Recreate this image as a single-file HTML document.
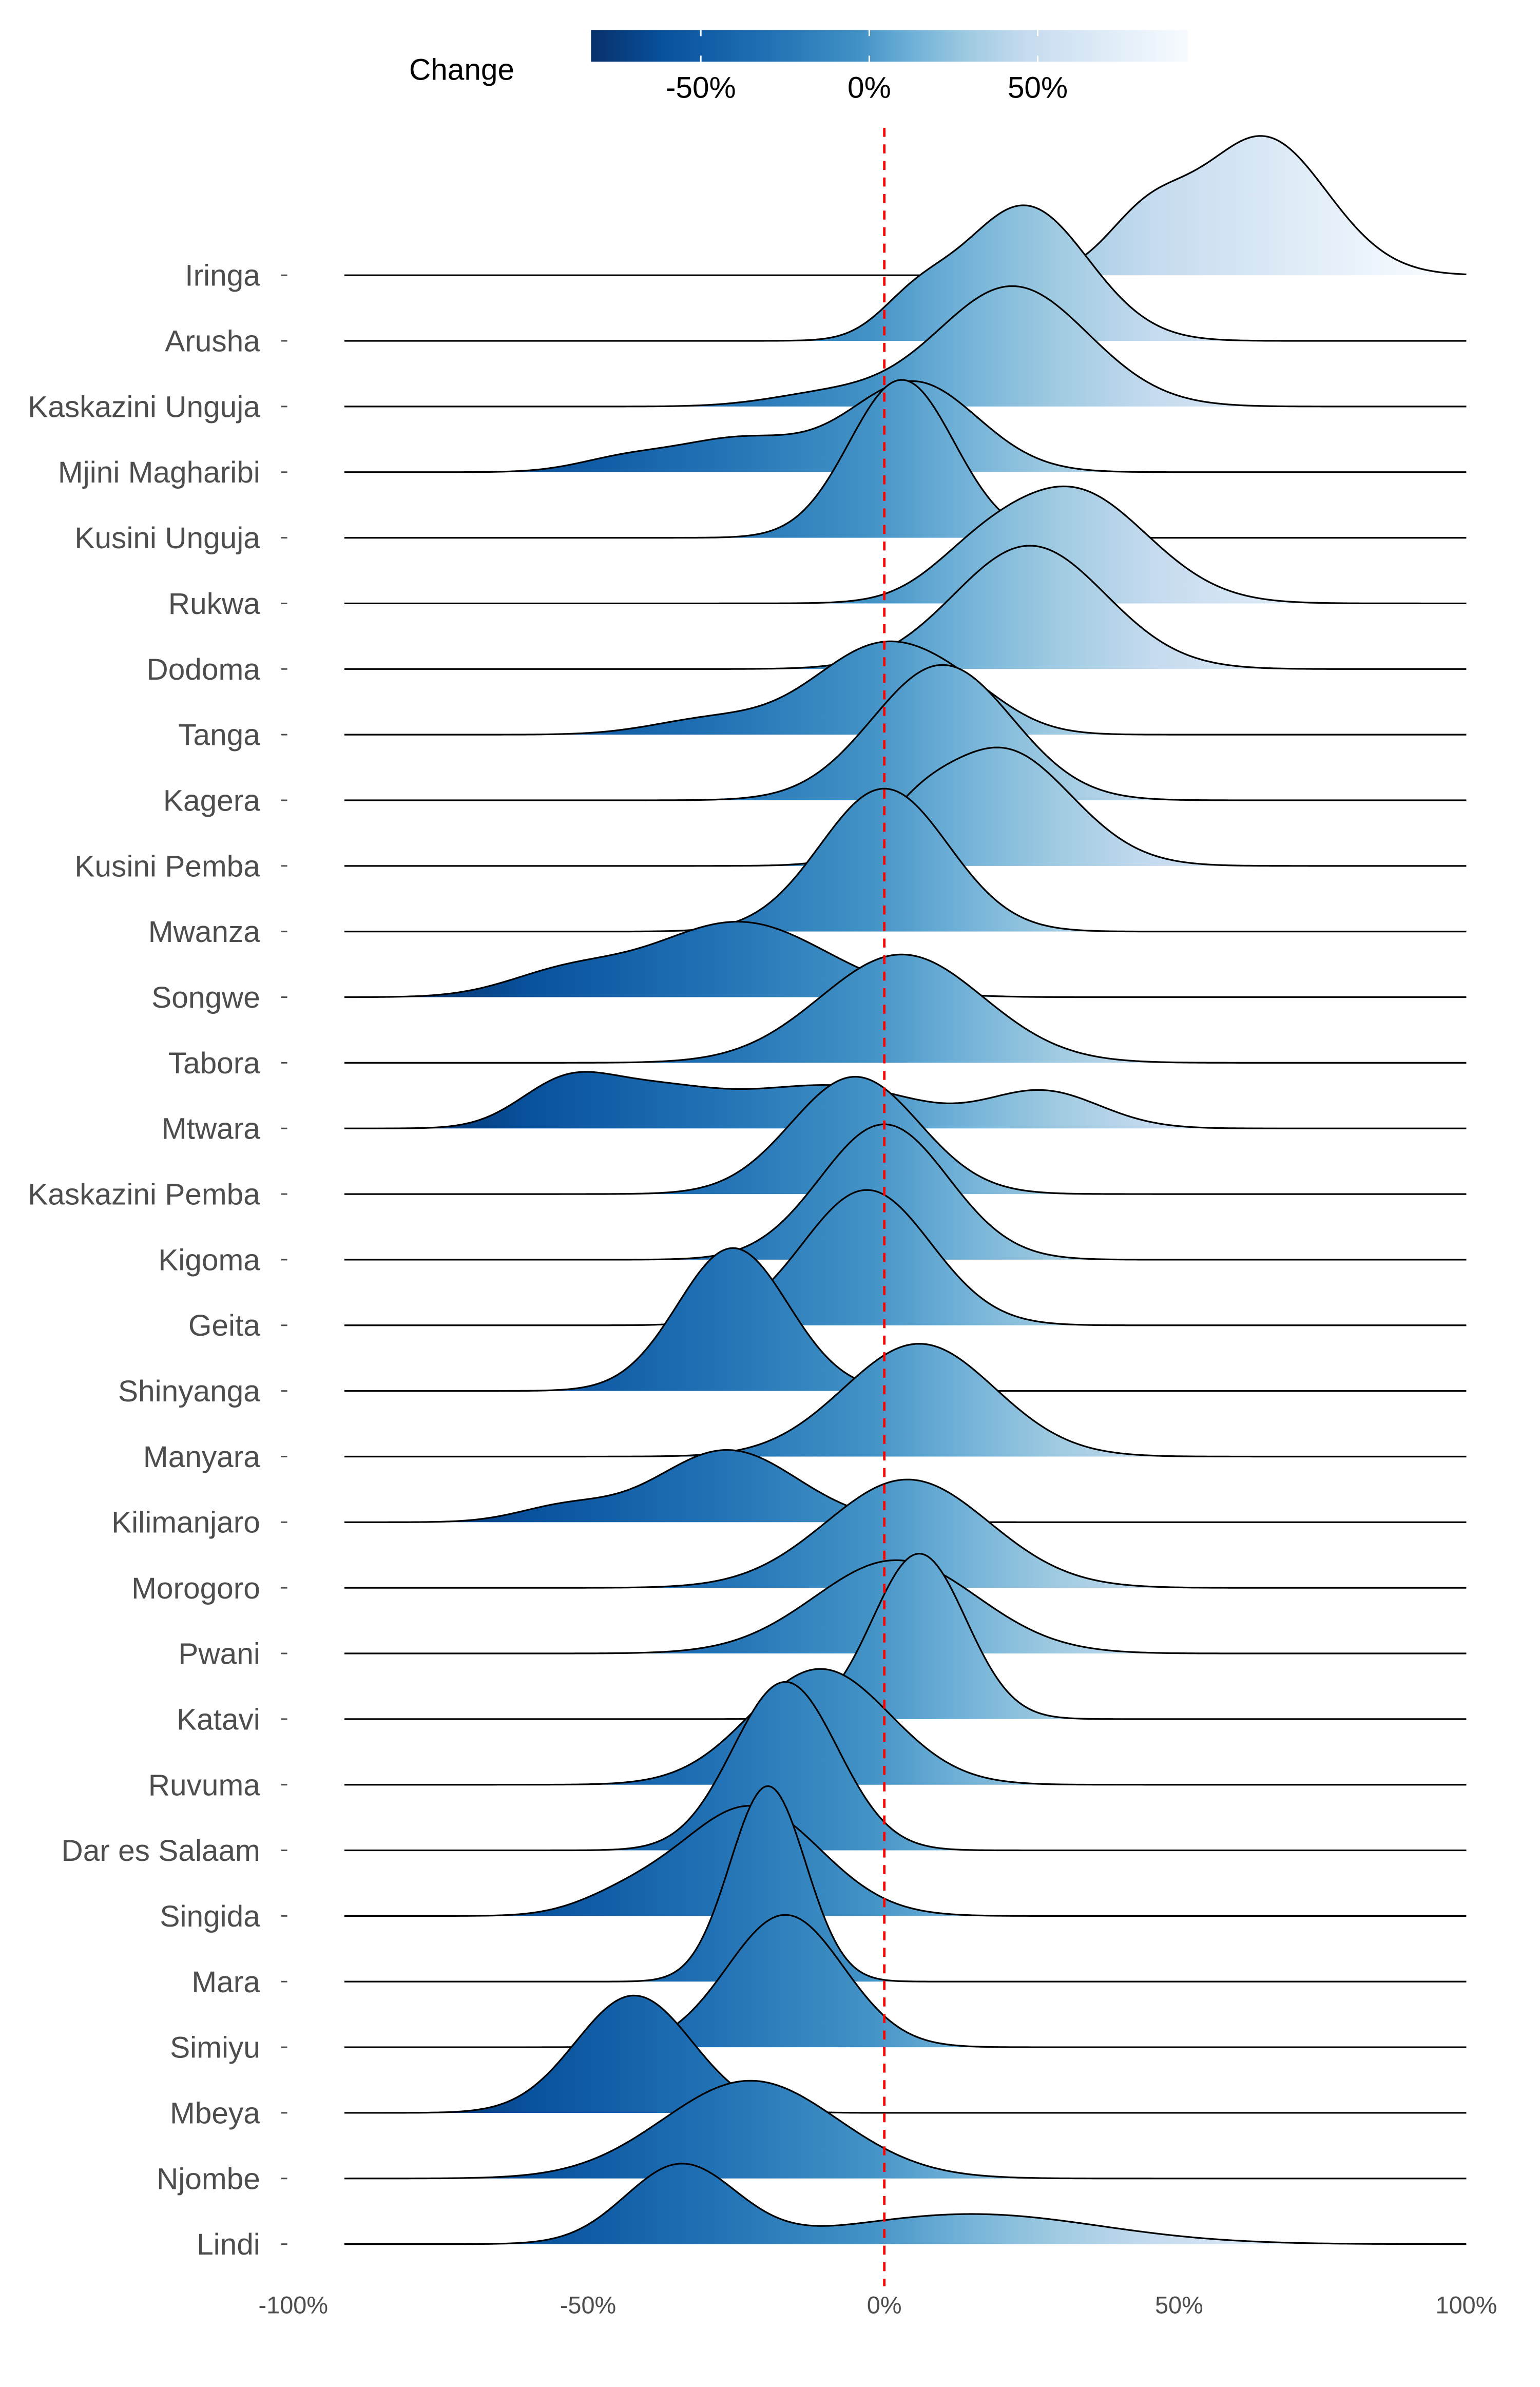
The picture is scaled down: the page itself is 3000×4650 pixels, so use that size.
<!DOCTYPE html>
<html><head><meta charset="utf-8"><style>
html,body{margin:0;padding:0;background:#fff;}
svg{display:block;}
text{font-family:"Liberation Sans",sans-serif;}
</style></head><body>
<svg id="s" width="3000" height="4650" viewBox="0 0 1024 1587" preserveAspectRatio="none" xmlns="http://www.w3.org/2000/svg">
<defs>
<linearGradient id="g" gradientUnits="userSpaceOnUse" x1="268" y1="0" x2="954" y2="0">
<stop offset="0" stop-color="#08306b"/>
<stop offset="0.12" stop-color="#08519c"/>
<stop offset="0.3" stop-color="#2171b5"/>
<stop offset="0.45" stop-color="#4292c6"/>
<stop offset="0.53" stop-color="#6baed6"/>
<stop offset="0.63" stop-color="#9ecae1"/>
<stop offset="0.73" stop-color="#c6dbef"/>
<stop offset="0.86" stop-color="#deebf7"/>
<stop offset="1" stop-color="#f7fbff"/>
</linearGradient>
<linearGradient id="cb" x1="0" y1="0" x2="1" y2="0">
<stop offset="0" stop-color="#08306b"/>
<stop offset="0.12" stop-color="#08519c"/>
<stop offset="0.3" stop-color="#2171b5"/>
<stop offset="0.45" stop-color="#4292c6"/>
<stop offset="0.53" stop-color="#6baed6"/>
<stop offset="0.63" stop-color="#9ecae1"/>
<stop offset="0.73" stop-color="#c6dbef"/>
<stop offset="0.86" stop-color="#deebf7"/>
<stop offset="1" stop-color="#f7fbff"/>
</linearGradient>
</defs>
<rect x="393" y="20" width="397" height="21" fill="url(#cb)"/>
<line x1="466" y1="20" x2="466" y2="24" stroke="#fff"/><line x1="466" y1="37" x2="466" y2="41" stroke="#fff"/>
<line x1="578" y1="20" x2="578" y2="24" stroke="#fff"/><line x1="578" y1="37" x2="578" y2="41" stroke="#fff"/>
<line x1="690" y1="20" x2="690" y2="24" stroke="#fff"/><line x1="690" y1="37" x2="690" y2="41" stroke="#fff"/>
<text x="272" y="53" font-size="20">Change</text>
<text x="466" y="65" font-size="20" text-anchor="middle">-50%</text>
<text x="578" y="65" font-size="20" text-anchor="middle">0%</text>
<text x="690" y="65" font-size="20" text-anchor="middle">50%</text>
<g id="ridges"></g>
<g id="labels" font-size="20" fill="#4d4d4d" text-anchor="end"></g>
<g font-size="16" fill="#4d4d4d" text-anchor="middle">
<text x="195" y="1538">-100%</text>
<text x="391" y="1538">-50%</text>
<text x="588" y="1538">0%</text>
<text x="784" y="1538">50%</text>
<text x="975" y="1538">100%</text>
</g>
<line x1="588" y1="85" x2="588" y2="1520" stroke="#ff0000" stroke-width="1.6" stroke-dasharray="6,5"/>
</svg>
<script>
(function(){
var data=[
["Iringa",[[65,11,92],[45,7,35]]],
["Arusha",[[24,11,90],[5,6,20]]],
["Kaskazini Unguja",[[22,13,80],[-10,10,8]]],
["Mjini Magharibi",[[5,11,60],[-25,11,22],[-45,8,8]]],
["Kusini Unguja",[[3,9,105]]],
["Rukwa",[[32,13,76],[15,8,15]]],
["Dodoma",[[25,13,82]]],
["Tanga",[[0,12,60],[-30,10,10],[15,8,10]]],
["Kagera",[[10,12,90]]],
["Kusini Pemba",[[20,12,78],[5,6,15]]],
["Mwanza",[[0,11,95]]],
["Songwe",[[-25,15,50],[-55,10,15]]],
["Tabora",[[3,14,72]]],
["Mtwara",[[-55,8,28],[-40,10,22],[-15,14,24],[27,10,25],[0,10,10]]],
["Kaskazini Pemba",[[-5,11,78]]],
["Kigoma",[[0,11,90]]],
["Geita",[[-3,11,90]]],
["Shinyanga",[[-26,9.5,95]]],
["Manyara",[[6,13,75]]],
["Kilimanjaro",[[-27,12,48],[-55,8,10]]],
["Morogoro",[[4,14,72]]],
["Pwani",[[2,14,62]]],
["Katavi",[[6,8,110]]],
["Ruvuma",[[-11,12,77]]],
["Dar es Salaam",[[-17,9,112]]],
["Singida",[[-23,12,73],[-45,8,10]]],
["Mara",[[-20,6.5,130]]],
["Simiyu",[[-17,10,88]]],
["Mbeya",[[-43,10,78]]],
["Njombe",[[-23,15,65]]],
["Lindi",[[-35,9.5,52],[15,22,20]]]
];
var NS="http://www.w3.org/2000/svg";
var rg=document.getElementById("ridges"),lg=document.getElementById("labels");
var y0=183,dy=(1492-183)/30;
for(var i=0;i<data.length;i++){
 var b=y0+i*dy,comps=data[i][1],pts=[];
 for(var x=229;x<=975;x+=2){
  var p=(x-588)/3.87,h=0;
  for(var k=0;k<comps.length;k++){var c=comps[k],z=(p-c[0])/c[1];h+=c[2]*Math.exp(-0.5*z*z);}
  pts.push(x+","+(b-h).toFixed(2));
 }
 var dline="M"+pts.join(" L");
 var f=document.createElementNS(NS,"path");
 f.setAttribute("d",dline+" L975,"+b.toFixed(2)+" L229,"+b.toFixed(2)+" Z");
 f.setAttribute("fill","url(#g)");rg.appendChild(f);
 var s=document.createElementNS(NS,"path");
 s.setAttribute("d",dline);s.setAttribute("fill","none");s.setAttribute("stroke","#000");s.setAttribute("stroke-width","1.1");
 rg.appendChild(s);
 var t=document.createElementNS(NS,"text");
 t.setAttribute("x","173");t.setAttribute("y",(b+7).toFixed(1));t.textContent=data[i][0];lg.appendChild(t);
 var l=document.createElementNS(NS,"line");
 l.setAttribute("x1","187");l.setAttribute("x2","191");l.setAttribute("y1",b.toFixed(2));l.setAttribute("y2",b.toFixed(2));l.setAttribute("stroke","#4d4d4d");
 lg.appendChild(l);
}
})();
</script>
</body></html>
